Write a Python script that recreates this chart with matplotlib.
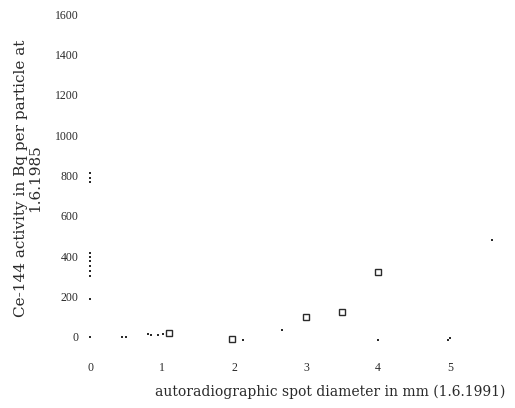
import matplotlib
matplotlib.use("Agg")
import matplotlib.pyplot as plt

# data
dot_x = [0, 0, 0, 0, 0, 0, 0, 0, 0, 0, 0, 0.45, 0.5, 0.8, 0.85, 0.95, 1.02, 2.12, 2.67, 4.0, 4.97, 5.0, 5.58]
dot_y = [770, 790, 810, 300, 325, 350, 375, 395, 415, 190, 0, 0, 0, 15, 12, 12, 15, -15, 35, -15, -15, -5, 480]
sq_x = [1.1, 1.97, 3.0, 3.5, 4.0]
sq_y = [20, -10, 100, 125, 320]
xticks = [0, 1, 2, 3, 4, 5]
yticks = [0, 200, 400, 600, 800, 1000, 1200, 1400, 1600]

plt.rcParams['font.family'] = ['Liberation Serif', 'DejaVu Serif']
ink = '#2a2a2a'

fig = plt.figure(figsize=(5.15, 4.08), dpi=100)
ax = fig.add_axes([0.1608, 0.1444, 0.811, 0.846])
ax.plot(dot_x, dot_y, linestyle='none', marker='s', markersize=1.6,
        color=ink, markeredgewidth=0)
ax.plot(sq_x, sq_y, linestyle='none', marker='s', markersize=4,
        markerfacecolor='none', markeredgecolor=ink, markeredgewidth=1.0)

ax.set_xlim(-0.1, 5.7)
ax.set_ylim(-60, 1650)
ax.set_xticks(xticks)
ax.set_yticks(yticks)
ax.set_xticklabels([str(v) for v in xticks])
ax.set_yticklabels([str(v) for v in yticks])
ax.tick_params(axis='both', length=0, labelsize=8.5, colors=ink)
ax.tick_params(axis='x', pad=9)
ax.tick_params(axis='y', pad=3)
for s in ax.spines.values():
    s.set_visible(False)

fig.text(155 / 515, 1 - 392 / 408, 'autoradiographic spot diameter in mm (1.6.1991)',
         ha='left', va='center', fontsize=10, color=ink, family='DejaVu Serif')
fig.text(28 / 515, 1 - 178 / 408, 'Ce-144 activity in Bq per particle at\n1.6.1985',
         ha='center', va='center', rotation=90, multialignment='center',
         fontsize=11, color=ink, linespacing=1.0, family='DejaVu Serif')

fig.savefig('out.png', dpi=100)
